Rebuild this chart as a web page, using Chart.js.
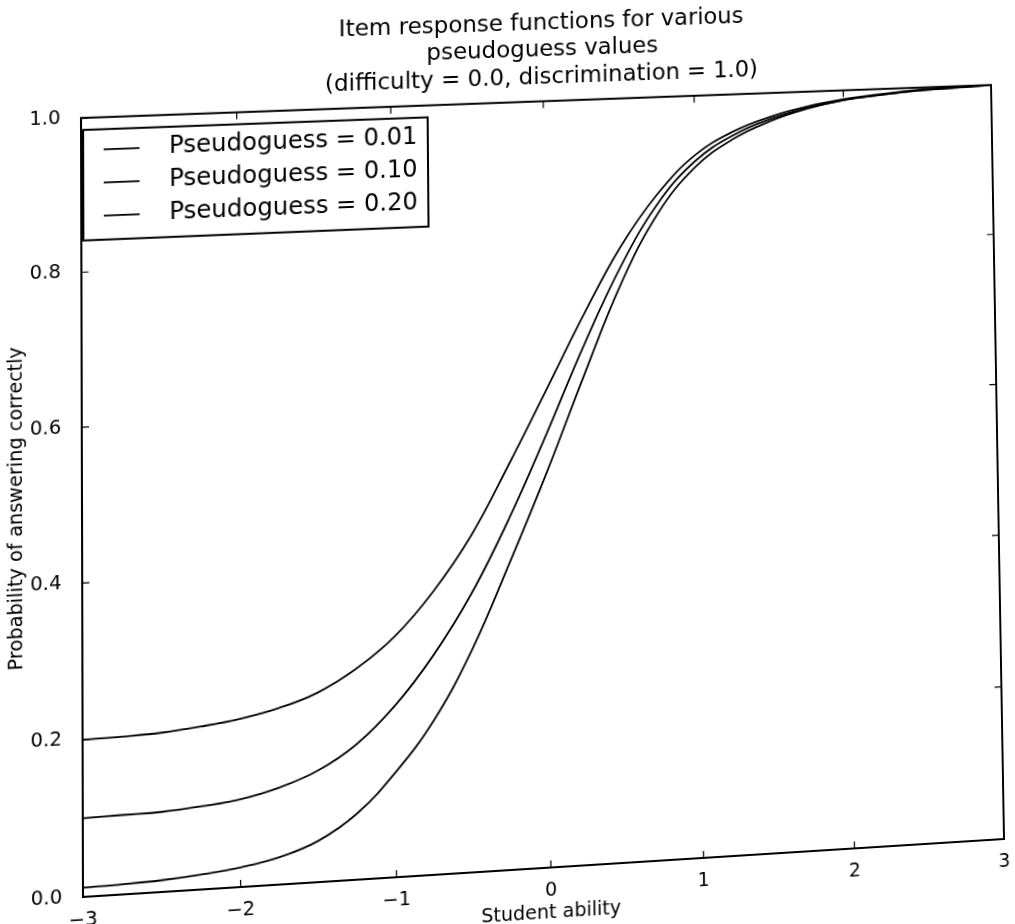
<!DOCTYPE html>
<html>
<head>
<meta charset="utf-8">
<title>Item response functions</title>
<script src="https://cdn.jsdelivr.net/npm/chart.js@4.4.0/dist/chart.umd.min.js"></script>
<style>
  html, body { margin: 0; padding: 0; background: #fff; overflow: hidden; }
  #wrap { width: 1015px; height: 924px; }
  #irf { transform-origin: 0 0; }
</style>
</head>
<body>
<div id="wrap"><canvas id="irf" width="1015" height="924"></canvas></div>
<script>
// Student ability values (x positions of the sampled points)
const ability = [-3, -2.75, -2.5, -2.25, -2, -1.75, -1.5, -1.25, -1, -0.75, -0.5, -0.25, 0,
                 0.25, 0.5, 0.75, 1, 1.25, 1.5, 1.75, 2, 2.25, 2.5, 2.75, 3];

// Probability of answering correctly, one list per pseudoguess value
const guess001 = [0.012, 0.013, 0.015, 0.019, 0.025, 0.035, 0.053, 0.085, 0.135, 0.199, 0.287, 0.397, 0.513,
                  0.637, 0.755, 0.846, 0.905, 0.940, 0.962, 0.977, 0.987, 0.992, 0.996, 0.998, 1.0];
const guess010 = [0.100, 0.101, 0.102, 0.106, 0.112, 0.124, 0.143, 0.174, 0.221, 0.283, 0.360, 0.455, 0.563,
                  0.676, 0.778, 0.859, 0.913, 0.945, 0.965, 0.978, 0.987, 0.992, 0.996, 0.998, 1.0];
const guess020 = [0.200, 0.201, 0.203, 0.208, 0.215, 0.226, 0.243, 0.271, 0.310, 0.365, 0.435, 0.525, 0.620,
                  0.716, 0.804, 0.872, 0.921, 0.950, 0.968, 0.980, 0.988, 0.993, 0.997, 0.999, 1.0];

const seriesLabels = ['Pseudoguess = 0.01', 'Pseudoguess = 0.10', 'Pseudoguess = 0.20'];
const xTicks = [-3, -2, -1, 0, 1, 2, 3];
const yTicks = [0, 0.2, 0.4, 0.6, 0.8, 1.0];

// the original is a tilted scan: where the plot box corners sit on the page (TL, TR, BR, BL)
const scanCorners = [[81, 118], [991, 85], [1004, 839], [83, 897]];

Chart.defaults.font.family = "'DejaVu Sans', 'Liberation Sans', sans-serif";
Chart.defaults.color = '#000';

function toPoints(ys) {
    return ability.map((x, i) => ({ x: x, y: ys[i] }));
}

// matplotlib-style box with inward ticks on all four sides
const frameTicks = {
    id: 'frameTicks',
    afterDatasetsDraw(chart) {
        const { ctx, chartArea: a, scales: { x, y } } = chart;
        ctx.save();
        ctx.strokeStyle = '#000';
        ctx.lineWidth = 2;
        ctx.strokeRect(a.left, a.top, a.right - a.left, a.bottom - a.top);
        ctx.lineWidth = 1.2;
        ctx.beginPath();
        x.ticks.forEach(t => {
            const px = x.getPixelForValue(t.value);
            ctx.moveTo(px, a.bottom); ctx.lineTo(px, a.bottom - 7);
            ctx.moveTo(px, a.top); ctx.lineTo(px, a.top + 7);
        });
        y.ticks.forEach(t => {
            const py = y.getPixelForValue(t.value);
            ctx.moveTo(a.left, py); ctx.lineTo(a.left + 7, py);
            ctx.moveTo(a.right, py); ctx.lineTo(a.right - 7, py);
        });
        ctx.stroke();
        ctx.restore();
    }
};

// boxed legend in the upper left corner of the plot
const boxLegend = {
    id: 'boxLegend',
    afterDraw(chart) {
        const { ctx, chartArea: a } = chart;
        const left = a.left + 2, top = a.top + 12;
        const w = 340, h = 110, rowGap = 33;
        ctx.save();
        ctx.fillStyle = '#fff';
        ctx.fillRect(left, top, w, h);
        ctx.strokeStyle = '#000';
        ctx.lineWidth = 2;
        ctx.strokeRect(left, top, w, h);
        ctx.font = "24px 'DejaVu Sans', sans-serif";
        ctx.textBaseline = 'middle';
        ctx.fillStyle = '#000';
        chart.data.datasets.forEach((ds, i) => {
            const cy = top + 20 + i * rowGap;
            ctx.lineWidth = ds.borderWidth;
            ctx.beginPath();
            ctx.moveTo(left + 20, cy);
            ctx.lineTo(left + 55, cy);
            ctx.stroke();
            ctx.fillText(ds.label, left + 84, cy);
        });
        ctx.restore();
    }
};

// projective map taking the chart area rectangle onto the scanned quadrilateral
function applyScanPerspective(canvas, area, quad) {
    const [[x0, y0], [x1, y1], [x2, y2], [x3, y3]] = quad;
    const dx1 = x1 - x2, dx2 = x3 - x2, dx3 = x0 - x1 + x2 - x3;
    const dy1 = y1 - y2, dy2 = y3 - y2, dy3 = y0 - y1 + y2 - y3;
    const den = dx1 * dy2 - dy1 * dx2;
    const g = (dx3 * dy2 - dy3 * dx2) / den;
    const h = (dx1 * dy3 - dy1 * dx3) / den;
    const a = x1 - x0 + g * x1, b = x3 - x0 + h * x3, c = x0;
    const d = y1 - y0 + g * y1, e = y3 - y0 + h * y3, f = y0;
    // unit square <- chart area
    const W = area.right - area.left, H = area.bottom - area.top;
    const sx = 1 / W, sy = 1 / H, tx = -area.left / W, ty = -area.top / H;
    const m = [
        [a * sx, b * sy, a * tx + b * ty + c],
        [d * sx, e * sy, d * tx + e * ty + f],
        [g * sx, h * sy, g * tx + h * ty + 1]
    ];
    canvas.style.transform = 'matrix3d(' + [
        m[0][0], m[1][0], 0, m[2][0],
        m[0][1], m[1][1], 0, m[2][1],
        0, 0, 1, 0,
        m[0][2], m[1][2], 0, m[2][2]
    ].join(',') + ')';
}

const lineStyle = {
    borderColor: '#000',
    borderWidth: 1.8,
    pointRadius: 0,
    fill: false,
    tension: 0.4
};

const chart = new Chart(document.getElementById('irf').getContext('2d'), {
    type: 'line',
    data: {
        datasets: [
            { ...lineStyle, label: seriesLabels[0], data: toPoints(guess001) },
            { ...lineStyle, label: seriesLabels[1], data: toPoints(guess010) },
            { ...lineStyle, label: seriesLabels[2], data: toPoints(guess020) }
        ]
    },
    options: {
        responsive: false,
        animation: false,
        layout: { padding: { left: 0, right: 17, top: 0, bottom: 0 } },
        plugins: {
            legend: { display: false },
            tooltip: { enabled: false },
            title: {
                display: true,
                fullSize: false,
                text: ['Item response functions for various', 'pseudoguess values', '(difficulty = 0.0, discrimination = 1.0)'],
                font: { size: 23, weight: 'normal', lineHeight: 1.2 },
                color: '#000',
                padding: { top: 8, bottom: 10 }
            }
        },
        scales: {
            x: {
                type: 'linear',
                min: -3,
                max: 3,
                afterBuildTicks: s => { s.ticks = xTicks.map(v => ({ value: v })); },
                afterFit: s => { s.height = 56; },
                grid: { display: false },
                border: { display: false },
                ticks: {
                    font: { size: 19 },
                    padding: 4,
                    maxRotation: 0,
                    callback: v => v < 0 ? '\u2212' + Math.abs(v) : String(v)
                },
                title: {
                    display: true,
                    text: 'Student ability',
                    font: { size: 19 },
                    padding: { top: 0, bottom: 0 }
                }
            },
            y: {
                min: 0,
                max: 1,
                afterBuildTicks: s => { s.ticks = yTicks.map(v => ({ value: v })); },
                afterFit: s => { s.width = 82; },
                grid: { display: false },
                border: { display: false },
                ticks: {
                    font: { size: 19 },
                    padding: 12,
                    callback: v => v.toFixed(1)
                },
                title: {
                    display: true,
                    text: 'Probability of answering correctly',
                    font: { size: 19 },
                    padding: { top: 8, bottom: 0 }
                }
            }
        }
    },
    plugins: [frameTicks, boxLegend]
});

applyScanPerspective(chart.canvas, chart.chartArea, scanCorners);
</script>
</body>
</html>
